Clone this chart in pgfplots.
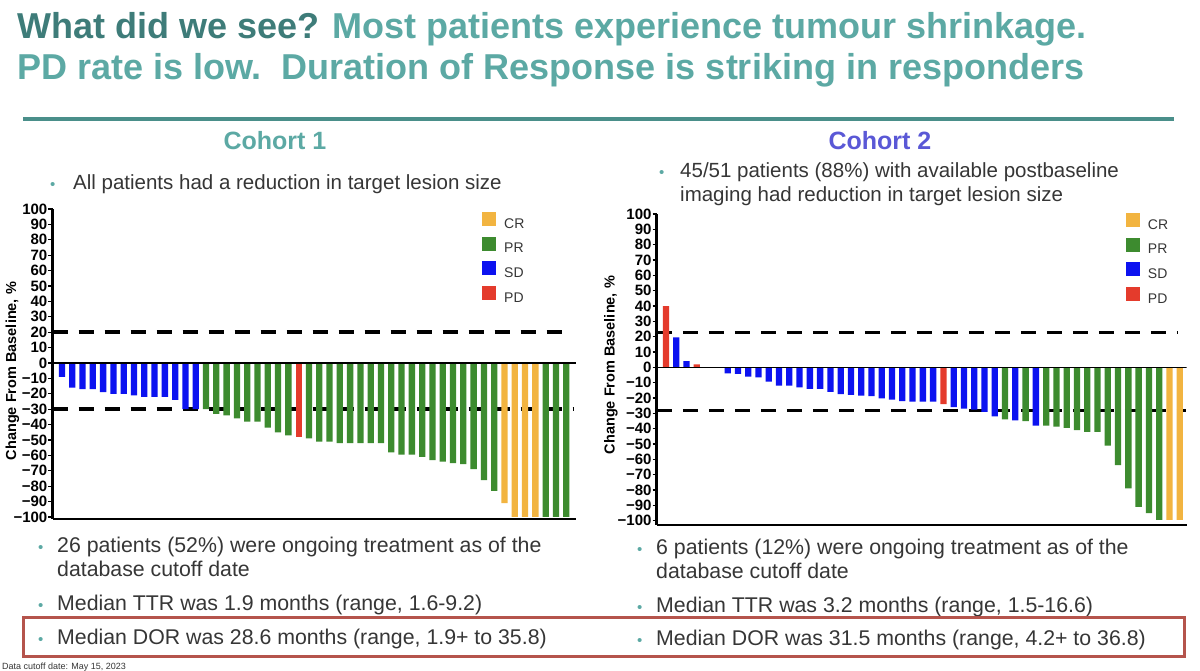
\documentclass[border=0pt]{standalone}
\usepackage{fontspec}
\setmainfont{Liberation Sans}
\usepackage{pgfplots}
\pgfplotsset{compat=1.18}

\definecolor{tealdark}{HTML}{3E7C79}
\definecolor{teallight}{HTML}{5CA9A4}
\definecolor{tealrule}{HTML}{4A8F8A}
\definecolor{cohorttwo}{HTML}{5A58D6}
\definecolor{crcol}{HTML}{F2B440}
\definecolor{prcol}{HTML}{3D8B2F}
\definecolor{sdcol}{HTML}{0C12F0}
\definecolor{pdcol}{HTML}{E43B2C}
\definecolor{boxred}{HTML}{B5544C}
\definecolor{bodytext}{HTML}{363636}

\pgfplotsset{
  waterfall/.style={
    scale only axis,
    axis x line*=bottom, axis y line*=left,
    axis line style={line width=2.6bp, -},
    xtick=\empty,
    ytick={-100,-90,...,100},
    yticklabels={−100,−90,−80,−70,−60,−50,−40,−30,−20,−10,0,10,20,30,40,50,60,70,80,90,100},
    yticklabel style={font=\fontsize{15bp}{15bp}\selectfont\bfseries, inner sep=1bp},
    tick align=outside, major tick length=4bp, tick style={line width=1.2bp, black},
    ylabel={Change From Baseline, \%},
    every axis y label/.style={rotate=90, anchor=center, font=\fontsize{14.5bp}{15bp}\selectfont\bfseries},
    legend cell align=left,
    legend style={draw=none, fill=none, inner sep=0pt, row sep=7bp,
      font=\fontsize{14bp}{16bp}\selectfont\color{bodytext},
      nodes={inner sep=0pt},
      /tikz/every odd column/.append style={column sep=8bp}},
  },
  wbar/.style={ybar, bar width=6.3bp, bar shift=0pt, draw=none, fill=#1,
    legend image code/.code={\fill[#1] (0bp,-2bp) rectangle (14bp,12bp);}},
  cutline/.style={black, line width=3.5bp, dash pattern=on 15bp off 11bp, forget plot},
  zeroline/.style={black, line width=1.5bp, forget plot},
}

\newcommand{\bul}{{\color{teallight}\fontsize{15bp}{15bp}\selectfont\textbullet}}

\begin{document}
\begin{tikzpicture}[x=1bp,y=1bp]
\useasboundingbox (0,0) rectangle (1200,671);
\fill[white] (0,0) rectangle (1200,671);

% heading
\node[anchor=base west, inner sep=0, font=\fontsize{36bp}{40bp}\selectfont\bfseries] at (17,632)
  {\color{tealdark}What did we see? \color{teallight}Most patients experience tumour shrinkage.};
\node[anchor=base west, inner sep=0, font=\fontsize{36bp}{40bp}\selectfont\bfseries] at (17,591)
  {\color{teallight}PD rate is low.\ \ Duration of Response is striking in responders};
\fill[tealrule] (23,550) rectangle (1174,554);

% cohort headings
\node[anchor=base, inner sep=0, font=\fontsize{25bp}{28bp}\selectfont\bfseries, text=teallight] at (275,521) {Cohort 1};
\node[anchor=base, inner sep=0, font=\fontsize{25bp}{28bp}\selectfont\bfseries, text=cohorttwo] at (880,521) {Cohort 2};

\begin{scope}[every node/.style={anchor=base west, inner sep=0, font=\fontsize{20.5bp}{24bp}\selectfont, text=bodytext}]
\node at (50,481) {\bul};
\node at (73,481) {All patients had a reduction in target lesion size};
\node at (659,493) {\bul};
\node at (680,493) {45/51 patients (88\%) with available postbaseline};
\node at (680,469) {imaging had reduction in target lesion size};
\end{scope}

\begin{scope}[every node/.style={anchor=base west, inner sep=0, font=\fontsize{21.3bp}{24bp}\selectfont, text=bodytext}]
\node at (38,118) {\bul};
\node at (57,118) {26 patients (52\%) were ongoing treatment as of the};
\node at (57,94) {database cutoff date};
\node at (38,60) {\bul};
\node at (57,60) {Median TTR was 1.9 months (range, 1.6-9.2)};
\node at (38,26) {\bul};
\node at (57,26) {Median DOR was 28.6 months (range, 1.9+ to 35.8)};

\node at (637,116) {\bul};
\node at (656,116) {6 patients (12\%) were ongoing treatment as of the};
\node at (656,92) {database cutoff date};
\node at (637,58) {\bul};
\node at (656,58) {Median TTR was 3.2 months (range, 1.5-16.6)};
\node at (637,25) {\bul};
\node at (656,25) {Median DOR was 31.5 months (range, 4.2+ to 36.8)};
\end{scope}

\draw[boxred, line width=3bp] (23,14) rectangle (1184,53);
\node[anchor=base west, inner sep=0, font=\fontsize{9bp}{10bp}\selectfont, text=bodytext] at (2,1.5) {Data cutoff date: May 15, 2023};

% Cohort 1 waterfall
\begin{axis}[waterfall, anchor=south west, at={(52.5bp,152bp)},
  width=523.5bp, height=310bp,
  xmin=0.08, xmax=50.95, ymin=-101.3, ymax=100,
  every axis y label/.append style={at={(axis description cs:-0.0764,0.477)}},
  legend style={at={(0.8204,0.990)}, anchor=north west}]
\addplot[cutline] coordinates {(0.1,20) (50.2,20)};
\addplot[cutline] coordinates {(0.1,-30) (50.66,-30)};
\addplot[wbar=crcol] coordinates {(44,-91) (45,-100) (46,-100) (47,-100)};
\addlegendentry{CR}
\addplot[wbar=prcol] coordinates {(15,-30) (16,-33) (17,-34) (18,-36) (19,-38) (20,-38) (21,-42) (22,-45) (23,-47)
  (25,-49) (26,-51) (27,-51) (28,-52) (29,-52) (30,-52) (31,-52) (32,-52) (33,-58) (34,-59.5) (35,-59.5)
  (36,-61) (37,-63) (38,-64) (39,-65) (40,-65.6) (41,-69) (42,-76) (43,-83) (48,-100) (49,-100) (50,-100)};
\addlegendentry{PR}
\addplot[wbar=sdcol] coordinates {(1,-9) (2,-16) (3,-17) (4,-17) (5,-19) (6,-20) (7,-20) (8,-21) (9,-22)
  (10,-22) (11,-22) (12,-24) (13,-30) (14,-30)};
\addlegendentry{SD}
\addplot[wbar=pdcol] coordinates {(24,-48)};
\addlegendentry{PD}
\addplot[zeroline] coordinates {(0.08,0) (50.95,0)};
\end{axis}

% Cohort 2 waterfall
\begin{axis}[waterfall, anchor=south west, at={(656.7bp,146bp)},
  width=530bp, height=311bp,
  xmin=0.095, xmax=51.68, ymin=-102.8, ymax=100,
  every axis y label/.append style={at={(axis description cs:-0.0862,0.514)}},
  legend style={at={(0.885,1.003)}, anchor=north west}]
\addplot[cutline] coordinates {(0.1,22.8) (50.8,22.8)};
\addplot[cutline] coordinates {(0.1,-28) (51.6,-28)};
\addplot[wbar=crcol] coordinates {(50,-99.5) (51,-99.5)};
\addlegendentry{CR}
\addplot[wbar=prcol] coordinates {(34,-34) (36,-35) (38,-38) (39,-38.7) (40,-39.4) (41,-41) (42,-42) (43,-42)
  (44,-51) (45,-63.7) (46,-79) (47,-91) (48,-95) (49,-99.5)};
\addlegendentry{PR}
\addplot[wbar=sdcol] coordinates {(2,19.5) (3,4) (5,0) (6,0) (7,-4) (8,-4.3) (9,-6) (10,-6.5) (11,-9.3)
  (12,-12) (13,-12) (14,-13) (15,-14) (16,-14) (17,-16) (18,-17.5) (19,-18) (20,-18.5) (21,-18.7)
  (22,-20.2) (23,-21) (24,-22) (25,-22.4) (26,-22.4) (27,-22.4) (29,-26) (30,-27) (31,-27.5) (32,-29)
  (33,-32) (35,-34.5) (37,-38)};
\addlegendentry{SD}
\addplot[wbar=pdcol] coordinates {(1,40) (4,2) (28,-24)};
\addlegendentry{PD}
\addplot[zeroline] coordinates {(0.095,0) (51.68,0)};
\end{axis}
\end{tikzpicture}
\end{document}
